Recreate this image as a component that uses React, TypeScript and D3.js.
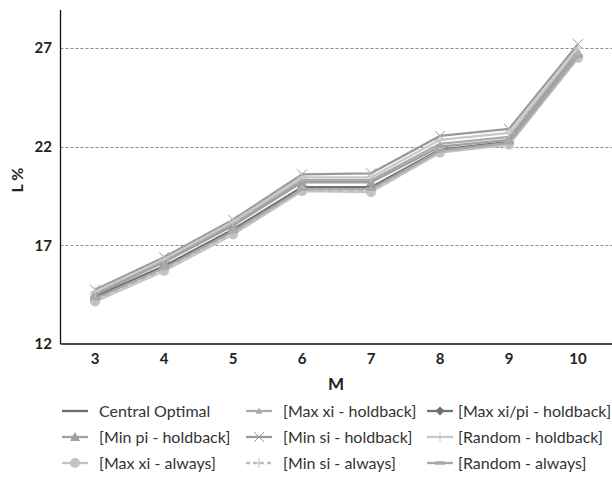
import { useRef, useEffect } from "react";
import * as d3 from "d3";

const categories = ["3", "4", "5", "6", "7", "8", "9", "10"];
const yTicks = [12, 17, 22, 27];

const centralOptimal = [14.35, 15.9, 17.75, 19.9, 19.9, 21.8, 22.2, 26.55];
const maxXiHoldback = [14.6, 16.25, 18.1, 20.3, 20.3, 22.15, 22.5, 26.85];
const maxXiPiHoldback = [14.4, 15.95, 17.8, 19.95, 19.95, 21.85, 22.25, 26.6];
const minPiHoldback = [14.5, 16.15, 18.0, 20.2, 20.2, 22.0, 22.35, 26.75];
const minSiHoldback = [14.75, 16.4, 18.3, 20.6, 20.65, 22.55, 22.9, 27.2];
const randomHoldback = [14.65, 16.3, 18.2, 20.45, 20.45, 22.35, 22.7, 27.0];
const maxXiAlways = [14.15, 15.7, 17.55, 19.75, 19.7, 21.7, 22.1, 26.5];
const minSiAlways = [14.25, 15.8, 17.65, 19.8, 19.8, 21.75, 22.15, 26.5];
const randomAlways = [14.3, 15.85, 17.7, 19.85, 19.85, 21.8, 22.2, 26.6];

type Series = {
  name: string;
  values: number[];
  color: string;
  marker: string;
  dash?: string;
};

const series: Series[] = [
  { name: "Central Optimal", values: centralOptimal, color: "#6b6b6b", marker: "none" },
  { name: "[Max xi - holdback]", values: maxXiHoldback, color: "#ababab", marker: "smalltri" },
  { name: "[Max xi/pi - holdback]", values: maxXiPiHoldback, color: "#707070", marker: "diamond" },
  { name: "[Min pi - holdback]", values: minPiHoldback, color: "#a0a0a0", marker: "tri" },
  { name: "[Min si - holdback]", values: minSiHoldback, color: "#9a9a9a", marker: "x" },
  { name: "[Random - holdback]", values: randomHoldback, color: "#c8c8c8", marker: "plus" },
  { name: "[Max xi - always]", values: maxXiAlways, color: "#c4c4c4", marker: "circle" },
  { name: "[Min si - always]", values: minSiAlways, color: "#bdbdbd", marker: "plus", dash: "6,4" },
  { name: "[Random - always]", values: randomAlways, color: "#a8a8a8", marker: "dash" },
];

const drawMarker = (g: any, type: string, x: number, y: number, color: string) => {
  if (type === "circle") {
    g.append("circle").attr("cx", x).attr("cy", y).attr("r", 5).attr("fill", color);
  } else if (type === "tri" || type === "smalltri") {
    const s = type === "tri" ? 5 : 3.5;
    g.append("path")
      .attr("d", `M${x},${y - s}L${x + s},${y + s * 0.8}L${x - s},${y + s * 0.8}Z`)
      .attr("fill", color);
  } else if (type === "diamond") {
    g.append("path")
      .attr("d", `M${x},${y - 4.5}L${x + 4.5},${y}L${x},${y + 4.5}L${x - 4.5},${y}Z`)
      .attr("fill", color);
  } else if (type === "x") {
    g.append("path")
      .attr("d", `M${x - 5},${y - 5}L${x + 5},${y + 5}M${x - 5},${y + 5}L${x + 5},${y - 5}`)
      .attr("stroke", color)
      .attr("stroke-width", 1);
  } else if (type === "plus") {
    g.append("path")
      .attr("d", `M${x - 5},${y}L${x + 5},${y}M${x},${y - 5}L${x},${y + 5}`)
      .attr("stroke", color)
      .attr("stroke-width", 1);
  } else if (type === "dash") {
    g.append("path")
      .attr("d", `M${x - 5},${y}L${x + 5},${y}`)
      .attr("stroke", color)
      .attr("stroke-width", 3.5);
  }
};

export default function App() {
  const ref = useRef<SVGSVGElement>(null);

  useEffect(() => {
    const svg = d3.select(ref.current);
    svg.selectAll("*").remove();

    const left = 60.5;
    const right = 612.5;
    const top = 10;
    const bottom = 344;

    const x = d3.scaleBand().domain(categories).range([left, right]);
    const y = d3.scaleLinear().domain([12, 28.93]).range([bottom, top]);
    const cx = (c: string) => (x(c) as number) + x.bandwidth() / 2;

    const font = "Lato, 'Open Sans', sans-serif";

    // gridlines
    svg
      .append("g")
      .selectAll("line")
      .data(yTicks.slice(1))
      .join("line")
      .attr("x1", left)
      .attr("x2", right)
      .attr("y1", (d) => Math.round(y(d)) + 0.5)
      .attr("y2", (d) => Math.round(y(d)) + 0.5)
      .attr("stroke", "#8a8a8a")
      .attr("stroke-dasharray", "3,2");

    // axes lines
    svg.append("line").attr("x1", left).attr("x2", left).attr("y1", top).attr("y2", bottom)
      .attr("stroke", "#111").attr("stroke-width", 1.3);
    svg.append("line").attr("x1", left).attr("x2", right).attr("y1", bottom).attr("y2", bottom)
      .attr("stroke", "#111").attr("stroke-width", 1.3);

    // y tick labels
    svg
      .append("g")
      .selectAll("text")
      .data(yTicks)
      .join("text")
      .attr("x", 52)
      .attr("y", (d) => y(d))
      .attr("dy", "0.35em")
      .attr("text-anchor", "end")
      .attr("font-family", font)
      .attr("font-weight", "bold")
      .attr("font-size", 15)
      .attr("fill", "#222")
      .text((d) => d);

    // x tick labels
    svg
      .append("g")
      .selectAll("text")
      .data(categories)
      .join("text")
      .attr("x", (d) => cx(d))
      .attr("y", 364)
      .attr("text-anchor", "middle")
      .attr("font-family", font)
      .attr("font-weight", "bold")
      .attr("font-size", 15)
      .attr("fill", "#222")
      .text((d) => d);

    // axis titles
    svg.append("text")
      .attr("transform", "translate(23,180) rotate(-90)")
      .attr("text-anchor", "middle")
      .attr("font-family", font)
      .attr("font-weight", "bold")
      .attr("font-size", 16)
      .attr("fill", "#222")
      .text("L %");
    svg.append("text")
      .attr("x", 336)
      .attr("y", 390)
      .attr("text-anchor", "middle")
      .attr("font-family", font)
      .attr("font-weight", "bold")
      .attr("font-size", 17)
      .attr("fill", "#222")
      .text("M");

    const line = d3
      .line<number>()
      .x((_, i) => cx(categories[i]))
      .y((d) => y(d));

    const plot = svg.append("g");
    series.forEach((s) => {
      plot
        .append("path")
        .attr("d", line(s.values) as string)
        .attr("fill", "none")
        .attr("stroke", s.color)
        .attr("stroke-width", 2.3)
        .attr("stroke-dasharray", s.dash ?? null);
      s.values.forEach((v, i) => drawMarker(plot, s.marker, cx(categories[i]), y(v), s.color));
    });

    // legend
    const colX = [62, 246, 427];
    const textX = [99, 283, 458];
    const rowY = [411, 437, 463];
    const legend = svg.append("g");
    series.forEach((s, i) => {
      const col = i % 3;
      const row = Math.floor(i / 3);
      const lx = colX[col];
      const ly = rowY[row];
      legend.append("line")
        .attr("x1", lx).attr("x2", lx + 26).attr("y1", ly).attr("y2", ly)
        .attr("stroke", s.color).attr("stroke-width", 2.3)
        .attr("stroke-dasharray", s.dash ? "4,3" : null);
      drawMarker(legend, s.marker, lx + 13, ly, s.color);
      legend.append("text")
        .attr("x", textX[col])
        .attr("y", ly)
        .attr("dy", "0.35em")
        .attr("font-family", font)
        .attr("font-size", 16)
        .attr("fill", "#333")
        .text(s.name);
    });
  }, []);

  return <svg ref={ref} width={612} height={477} style={{ position: "absolute", left: 0, top: 0 }} />;
}
